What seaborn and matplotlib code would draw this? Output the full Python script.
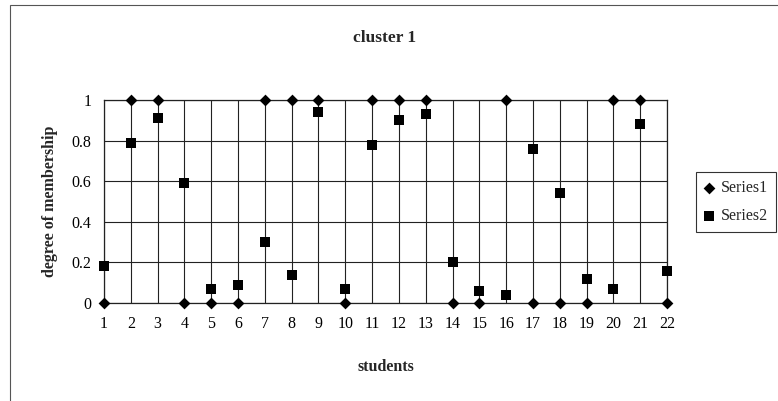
import pandas as pd
import matplotlib
matplotlib.use("Agg")
import matplotlib.pyplot as plt
import seaborn as sns
from matplotlib.patches import Rectangle

# dados
students = list(range(1, 23))
series1 = [0, 1, 1, 0, 0, 0, 1, 1, 1, 0, 1, 1, 1, 0, 0, 1, 0, 0, 0, 1, 1, 0]
series2 = [0.18, 0.79, 0.91, 0.59, 0.07, 0.09, 0.30, 0.14, 0.94, 0.07, 0.78,
           0.90, 0.93, 0.20, 0.06, 0.04, 0.76, 0.54, 0.12, 0.07, 0.88, 0.16]
y_ticks = [0, 0.2, 0.4, 0.6, 0.8, 1]
y_tick_labels = ["0", "0.2", "0.4", "0.6", "0.8", "1"]

df = pd.DataFrame({"students": students, "Series1": series1, "Series2": series2})

sns.set_theme(style="white")
plt.rcParams["font.family"] = ["Liberation Serif", "DejaVu Serif"]

fig = plt.figure(figsize=(7.78, 4.01), dpi=100)
ax = fig.add_axes([104 / 778, 1 - 303 / 401, (667 - 104) / 778, (303 - 100) / 401])

sns.scatterplot(data=df, x="students", y="Series1", marker="D", s=36, color="black",
                edgecolor="black", linewidth=0, ax=ax, label="Series1", clip_on=False, zorder=4)
sns.scatterplot(data=df, x="students", y="Series2", marker="s", s=62, color="black",
                edgecolor="black", linewidth=0, ax=ax, label="Series2", clip_on=False, zorder=4)

ax.set_xlim(1, 22)
ax.set_ylim(0, 1)
ax.set_xticks(students)
ax.set_xticklabels([str(s) for s in students], fontsize=11.5)
ax.set_yticks(y_ticks)
ax.set_yticklabels(y_tick_labels, fontsize=11.5)
ax.tick_params(axis="both", length=0, pad=9, colors="black")
ax.grid(True, color="#222222", linewidth=0.8)
ax.set_axisbelow(True)
for side in ax.spines.values():
    side.set_color("#222222")
    side.set_linewidth(0.9)

ax.set_xlabel("students", fontsize=11.5, fontweight="bold", labelpad=20)
ax.set_ylabel("degree of membership", fontsize=11.5, fontweight="bold", labelpad=10)
fig.text(385 / 778, 1 - 38 / 401, "cluster 1", ha="center", va="center",
         fontsize=12.5, fontweight="bold")

ax.get_legend().remove()
handles, labels = ax.get_legend_handles_labels()
leg = fig.legend(handles, labels, loc="upper left",
                 bbox_to_anchor=(696 / 778, 1 - 172 / 401), fontsize=11.5,
                 frameon=True, fancybox=False, edgecolor="black",
                 handlelength=0.6, handletextpad=0.45, borderpad=0.5,
                 labelspacing=0.75, borderaxespad=0)
leg.get_frame().set_linewidth(0.8)

# moldura externa (só topo e esquerda visíveis)
fig.add_artist(Rectangle((10 / 778, -0.5), 1.5, 1.5 - 5 / 401,
                         transform=fig.transFigure, fill=False,
                         edgecolor="#555555", linewidth=0.8))

fig.savefig("out.png", dpi=100)
